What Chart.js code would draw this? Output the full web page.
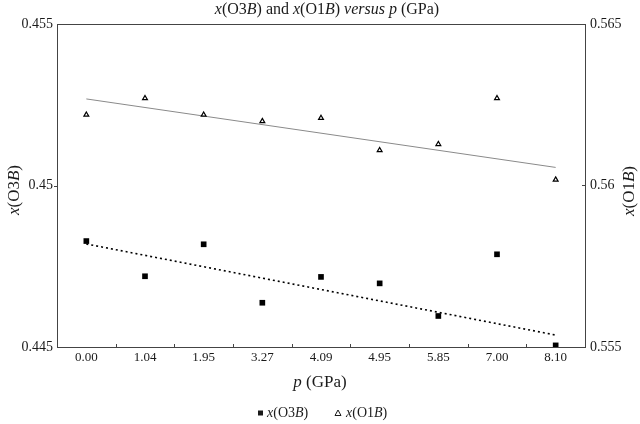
<!DOCTYPE html>
<html>
<head>
<meta charset="utf-8">
<script src="https://cdn.jsdelivr.net/npm/chart.js@4"></script>
<style>
  html, body { margin: 0; background: #fff; }
  #wrap { width: 640px; height: 424px; }
</style>
</head>
<body>
<div id="wrap"><canvas id="chart"></canvas></div>
<script>
// pressure categories (GPa)
const pressures = ['0.00', '1.04', '1.95', '3.27', '4.09', '4.95', '5.85', '7.00', '8.10'];
// x(O3B), left axis
const xO3B = [0.44828, 0.44719, 0.44818, 0.44637, 0.44717, 0.44697, 0.44596, 0.44787, 0.44505];
// x(O1B), right axis
const xO1B = [0.56219, 0.56270, 0.56219, 0.56199, 0.56209, 0.56109, 0.56128, 0.56270, 0.56018];
// trend lines, end points only
const trendO3B = [0.44819, null, null, null, null, null, null, null, 0.44537];
const trendO1B = [0.56268, null, null, null, null, null, null, null, 0.56056];
const leftTicks = [0.445, 0.45, 0.455];
const rightTicks = [0.555, 0.56, 0.565];

const FONT = '"Liberation Serif", "DejaVu Serif", serif';
const INK = '#1a1a1a';

// draw text made of plain / italic pieces, centred on x
function rich(ctx, segs, x, y, size) {
  const fonts = segs.map(s => (s[1] ? 'italic ' : '') + size + 'px ' + FONT);
  let w = 0;
  segs.forEach((s, i) => { ctx.font = fonts[i]; w += ctx.measureText(s[0]).width; });
  let cx = x - w / 2;
  ctx.textAlign = 'left';
  ctx.textBaseline = 'middle';
  segs.forEach((s, i) => {
    ctx.font = fonts[i];
    ctx.fillText(s[0], cx, y);
    cx += ctx.measureText(s[0]).width;
  });
  return w;
}

function richWidth(ctx, segs, size) {
  let w = 0;
  segs.forEach(s => { ctx.font = (s[1] ? 'italic ' : '') + size + 'px ' + FONT; w += ctx.measureText(s[0]).width; });
  return w;
}

const O3B = [['x', 1], ['(O3', 0], ['B', 1], [')', 0]];
const O1B = [['x', 1], ['(O1', 0], ['B', 1], [')', 0]];

const decor = {
  id: 'decor',
  afterDraw(chart) {
    const ctx = chart.ctx;
    const a = chart.chartArea;
    const x = chart.scales.x, yl = chart.scales.y, yr = chart.scales.y2;
    ctx.save();
    // frame
    ctx.strokeStyle = '#444';
    ctx.lineWidth = 1;
    ctx.strokeRect(Math.round(a.left) + 0.5, Math.round(a.top) + 0.5,
      Math.round(a.right - a.left), Math.round(a.bottom - a.top));
    // small ticks between categories
    ctx.beginPath();
    const step = x.getPixelForValue(1) - x.getPixelForValue(0);
    for (let i = 0; i < pressures.length - 1; i++) {
      const px = Math.round(x.getPixelForValue(i) + step / 2) + 0.5;
      ctx.moveTo(px, a.bottom);
      ctx.lineTo(px, a.bottom - 3);
    }
    const yMid = Math.round(yl.getPixelForValue(leftTicks[1])) + 0.5;
    ctx.moveTo(a.left, yMid); ctx.lineTo(a.left - 3, yMid);
    const yMid2 = Math.round(yr.getPixelForValue(rightTicks[1])) + 0.5;
    ctx.moveTo(a.right, yMid2); ctx.lineTo(a.right - 3, yMid2);
    ctx.stroke();

    ctx.fillStyle = INK;
    // title
    rich(ctx, [['x', 1], ['(O3', 0], ['B', 1], [') and ', 0], ['x', 1], ['(O1', 0], ['B', 1],
      [') ', 0], ['versus p', 1], [' (GPa)', 0]], 327, 10, 16);
    // x axis title
    rich(ctx, [['p', 1], [' (GPa)', 0]], 320, 383, 17);
    // y axis titles
    ctx.save();
    ctx.translate(15, 190);
    ctx.rotate(-Math.PI / 2);
    rich(ctx, O3B, 0, 0, 17);
    ctx.restore();
    ctx.save();
    ctx.translate(630, 191);
    ctx.rotate(-Math.PI / 2);
    rich(ctx, O1B, 0, 0, 17);
    ctx.restore();

    // legend
    const ly = 413;
    ctx.fillRect(258, ly - 2.5, 5, 5);
    const w1 = richWidth(ctx, O3B, 14);
    rich(ctx, O3B, 267 + w1 / 2, ly, 14);
    ctx.beginPath();
    ctx.moveTo(338, ly - 3);
    ctx.lineTo(341, ly + 2.5);
    ctx.lineTo(335, ly + 2.5);
    ctx.closePath();
    ctx.lineWidth = 1;
    ctx.strokeStyle = INK;
    ctx.stroke();
    const w2 = richWidth(ctx, O1B, 14);
    rich(ctx, O1B, 346 + w2 / 2, ly, 14);
    ctx.restore();
  }
};

const tickText = v => String(+Number(v).toFixed(3));

new Chart(document.getElementById('chart'), {
  type: 'line',
  data: {
    labels: pressures,
    datasets: [
      {
        label: 'x(O3B)', data: xO3B, yAxisID: 'y', showLine: false,
        pointStyle: 'rect', pointRadius: 4, backgroundColor: '#000', borderColor: '#000', borderWidth: 0
      },
      {
        label: 'x(O1B)', data: xO1B, yAxisID: 'y2', showLine: false,
        pointStyle: 'triangle', pointRadius: 2.8, backgroundColor: '#fff', borderColor: '#000', borderWidth: 1.2
      },
      {
        label: 'trend O3B', data: trendO3B, yAxisID: 'y', spanGaps: true,
        borderColor: '#000', borderWidth: 1.6, borderDash: [2, 3], pointRadius: 0
      },
      {
        label: 'trend O1B', data: trendO1B, yAxisID: 'y2', spanGaps: true,
        borderColor: '#8a8a8a', borderWidth: 1, pointRadius: 0
      }
    ]
  },
  options: {
    responsive: true,
    maintainAspectRatio: false,
    animation: false,
    layout: { padding: { top: 24, left: 0, right: 0, bottom: 0 } },
    plugins: { legend: { display: false }, tooltip: { enabled: false } },
    scales: {
      x: {
        offset: true,
        grid: { display: false, drawTicks: false },
        border: { display: false },
        ticks: { color: INK, font: { family: FONT, size: 13 }, padding: 3, maxRotation: 0 },
        afterFit(s) { s.height = 77; }
      },
      y: {
        position: 'left',
        min: leftTicks[0], max: leftTicks[2],
        grid: { display: false, drawTicks: false },
        border: { display: false },
        ticks: { color: INK, font: { family: FONT, size: 14 }, padding: 4, callback: tickText },
        afterBuildTicks(s) { s.ticks = leftTicks.map(v => ({ value: v })); },
        afterFit(s) { s.width = 57; }
      },
      y2: {
        position: 'right',
        min: rightTicks[0], max: rightTicks[2],
        grid: { display: false, drawTicks: false },
        border: { display: false },
        ticks: { color: INK, font: { family: FONT, size: 14 }, padding: 5, callback: tickText },
        afterBuildTicks(s) { s.ticks = rightTicks.map(v => ({ value: v })); },
        afterFit(s) { s.width = 55; }
      }
    }
  },
  plugins: [decor]
});
</script>
</body>
</html>
